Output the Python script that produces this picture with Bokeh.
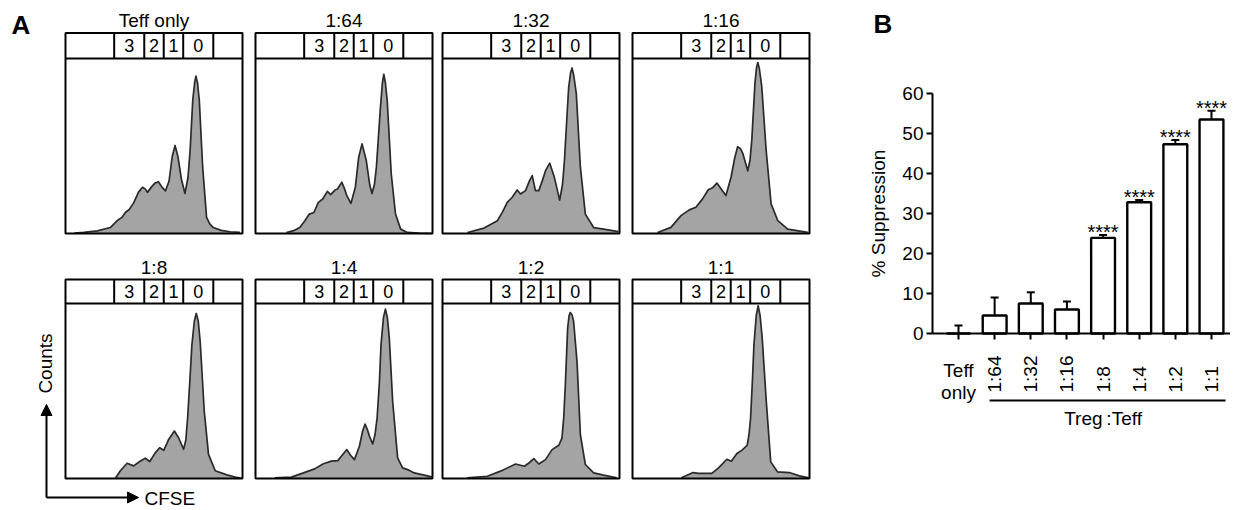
import math
from bokeh.plotting import figure
from bokeh.layouts import row, column
from bokeh.models import (ColumnDataSource, Range1d, FixedTicker, Whisker,
                          TeeHead, Arrow, NormalHead)
from bokeh.core.properties import value
from bokeh.embed import file_html
from bokeh.resources import INLINE

FONT = "Liberation Sans"

# ---------------- Panel A data: CFSE histograms (x: % of channel range, y: % of histogram height)
teff_x = [5, 10.3, 18, 25.3, 29.5, 31.9, 33.8, 36, 38.5, 41.2, 43.5, 45.0, 46.3, 48.5, 50.5,
          52.5, 54.5, 56.5, 58.5, 60.3, 61.9, 63.5, 65.5, 67.5, 69.2, 70.4, 71.9, 73.0, 73.7,
          74.6, 75.6, 77.5, 79.7, 81.5, 83.5, 88, 93, 98.5]
teff_y = [0.3, 0.6, 1.5, 3.4, 7.6, 9.2, 12, 13.7, 17.5, 23.5, 26.4, 25.5, 23.5, 26.5, 28.8,
          29.6, 26.5, 24.4, 30, 44, 50.3, 44, 31, 22.9, 32, 47.4, 76.2, 86.5, 89.9,
          86, 76, 37.9, 9.2, 5.5, 3.4, 1.8, 1.0, 0.6]

r64_x = [17.5, 22, 25, 27.9, 30.4, 33, 35.5, 38, 40.6, 42.5, 45, 46.3, 48.8, 50.3, 51.6, 53.9,
         56.4, 58.3, 60.2, 62.6, 64.5, 65.8, 67.2, 68.3, 70.6, 71.7, 72.5, 73.4, 74.4, 76.7,
         79.1, 82, 85.8, 92, 100]
r64_y = [0.6, 1.8, 3.4, 7.3, 11.1, 12, 17.8, 19.7, 24.1, 22.2, 24.9, 25.4, 29.3, 25.5, 21.6, 17.2,
         26.4, 43.6, 51.2, 41.7, 28, 22.9, 28, 37.9, 72.3, 86, 91, 86, 76.1, 34,
         11.1, 2.5, 0.6, 0.2, 0]

r32_x = [14.1, 23.5, 31, 34, 36.6, 39.4, 42.2, 44.1, 46.9, 49.3, 50.7, 52.5, 54.4, 56.5, 58.2,
         60.6, 63.2, 66.2, 67.8, 68.9, 70.2, 71.3, 72.4, 73.2, 74.2, 75.6, 77.9, 80.7, 85.4,
         91, 99.4]
r32_y = [0.6, 3.1, 7.3, 12.5, 17.8, 20.7, 24.9, 22.6, 24.5, 30.5, 33.1, 24.5, 24.5, 30.5, 35.9,
         40.2, 32.1, 19.1, 28, 41.7, 65, 83.7, 92, 94.6, 90, 79.9, 37.9, 11.1, 3.4,
         2.5, 1.1]

r16_x = [14.2, 21.7, 27.4, 32.1, 35.8, 39.6, 42.8, 45.3, 47.7, 50, 52.8, 55.7, 57.7, 59.4, 61,
         62.3, 65.1, 66.4, 67.4, 69.2, 70.1, 70.8, 71.7, 73, 75.5, 78.3, 82.1, 87.7, 99]
r16_y = [0.6, 3.5, 10.2, 13.5, 15, 19.8, 25, 26.2, 28.8, 25.6, 21.7, 32.3, 43, 49.6, 48.5,
         45.8, 35.8, 42, 53.5, 86.2, 95, 97.7, 94, 84.2, 47.7, 16.9, 7.3, 2.5, 0.6]

r8_x = [28.2, 31, 34.8, 38.5, 42.3, 45.1, 47.6, 50.8, 53.2, 55.5, 58.3, 61.5, 63.9, 66.7, 68,
        69, 70.2, 71.4, 72.8, 73.9, 75, 76.1, 78.4, 80.8, 84.6, 91.2, 96.8, 100]
r8_y = [0.2, 4.4, 8.7, 7.2, 10, 11.6, 9.7, 14.8, 17.6, 16.1, 22.3, 27.1, 23.3, 16.7, 22,
        34.7, 55, 76.3, 90, 94.3, 90, 78.2, 38.4, 13.8, 4.4, 2.1, 0.6, 0]

r4_x = [10.9, 20.3, 25.9, 33.4, 38.1, 42.8, 46.5, 49.3, 51.6, 53.7, 55.9, 58.7, 60.5, 61.9, 63.2,
        64.4, 66.2, 67.5, 68.7, 70, 70.9, 72.3, 73.4, 74.5, 75.6, 77.5, 80.3, 83.1, 85.9, 89.7,
        95.3, 100]
r4_y = [0.4, 0.8, 2.8, 5.5, 8.3, 9.9, 10.2, 13.7, 16.5, 13.3, 10.8, 18.4, 27, 31.1, 28,
        24.1, 19.7, 25, 34.5, 55, 76.3, 92, 96.8, 92, 80.1, 44, 11.8, 6.1, 5.1, 3.2,
        1.9, 0.8]

r2_x = [14.1, 25.3, 32.8, 41.3, 46.3, 49, 51.6, 54.4, 58.2, 61.9, 65.7, 67.5, 68.5, 69.4, 70.7,
        71.5, 72.2, 73.2, 74.1, 76, 77.9, 80.7, 85.4, 91, 98.5]
r2_y = [0.4, 1.3, 4.2, 8.3, 7, 9, 11.4, 8.3, 10.8, 16.5, 19, 23.1, 35, 53.5, 85.8,
        93, 94.9, 93.5, 89.6, 66.8, 25, 8, 3.2, 1.9, 0.4]

r1_x = [27.6, 34.3, 37.1, 44.8, 48.6, 53.3, 55.8, 59, 61.9, 64.8, 65.8, 66.7, 67.7, 68.6, 69.9,
        71, 72.1, 73.3, 75.6, 78.1, 81.9, 88.6, 94.3, 99.6]
r1_y = [0.4, 3.4, 2.9, 2.9, 6.1, 11, 9.9, 14.3, 16.2, 19, 25, 34.3, 55, 76.2, 93,
        98.7, 93, 80, 43.8, 9.5, 3.8, 3.4, 1.5, 0.4]

panel_titles = ["Teff only", "1:64", "1:32", "1:16", "1:8", "1:4", "1:2", "1:1"]
panel_xs = [teff_x, r64_x, r32_x, r16_x, r8_x, r4_x, r2_x, r1_x]
panel_ys = [teff_y, r64_y, r32_y, r16_y, r8_y, r4_y, r2_y, r1_y]

gate_edges = [27.5, 44.5, 55.5, 66.5, 83.5]
gate_labels = ["3", "2", "1", "0"]

# ---------------- Panel B data
categories = ["Teff only", "1:64", "1:32", "1:16", "1:8", "1:4", "1:2", "1:1"]
suppression = [0.0, 4.5, 7.5, 6.0, 23.9, 32.8, 47.3, 53.5]
sem = [2.0, 4.5, 2.8, 2.0, 0.7, 0.6, 1.1, 2.2]
significance = ["", "", "", "", "****", "****", "****", "****"]
y_ticks = [0, 10, 20, 30, 40, 50, 60]
group_label = "Treg\u2009:Teff"

# ---------------- layout constants (pixels)
PX_X = 1.77   # px per histogram x unit
PX_Y = 1.75   # px per histogram y unit
col_widths = [249, 188, 188, 190]
col_box_left = [65, 6, 5, 7]
row_heights = [250, 258]
row_box_bottom = [17, 30]
row_strip_px = [25.5, 24.0]

FILL = "#a4a4a4"
EDGE = "#2a2a2a"


def hist_fig(idx, r, c):
    w, h = col_widths[c], row_heights[r]
    bl, bb = col_box_left[c], row_box_bottom[r]
    x0, x1 = -bl / PX_X, (w - bl) / PX_X
    y0, y1 = -bb / PX_Y, (h - bb) / PX_Y
    p = figure(width=w, height=h, x_range=Range1d(x0, x1), y_range=Range1d(y0, y1),
               x_axis_type=None, y_axis_type=None, toolbar_location=None,
               output_backend="svg", min_border=0, outline_line_color=None,
               background_fill_color="white", border_fill_color="white")
    strip_top = 100 + row_strip_px[r] / PX_Y
    xs, ys = panel_xs[idx], panel_ys[idx]
    p.patch([xs[0]] + xs + [xs[-1]], [0] + ys + [0], fill_color=FILL, line_color=None)
    p.line(xs, ys, line_color=EDGE, line_width=1.7, line_join="round")
    p.quad(left=[0], right=[100], bottom=[0], top=[strip_top], fill_color=None,
           line_color="black", line_width=2)
    p.segment(x0=[0], y0=[100], x1=[100], y1=[100], line_color="black", line_width=2)
    p.segment(x0=gate_edges, y0=[100] * len(gate_edges), x1=gate_edges,
              y1=[strip_top] * len(gate_edges), line_color="black", line_width=2)
    centers = [(a + b) / 2 for a, b in zip(gate_edges[:-1], gate_edges[1:])]
    p.text(x=centers, y=[(100 + strip_top) / 2] * len(centers), text=gate_labels,
           text_font=value(FONT), text_font_size="18px", text_align="center",
           text_baseline="middle", text_color="black")
    p.text(x=[50], y=[strip_top + 12.5 / PX_Y], text=[panel_titles[idx]],
           text_font=value(FONT), text_font_size="19px", text_align="center",
           text_baseline="middle", text_color="black")
    return p


figs = [[hist_fig(r * 4 + c, r, c) for c in range(4)] for r in range(2)]

# "A" label on first panel (canvas px -> data)
pA = figs[0][0]
A_bottom = row_heights[0] - row_box_bottom[0]
pA.text(x=[(11 - 65) / PX_X], y=[(A_bottom - 24) / PX_Y], text=["A"], text_font=value(FONT),
        text_font_size="26px", text_font_style="bold", text_align="left",
        text_baseline="middle", text_color="black")

# Counts / CFSE arrows on bottom-left panel (page px -> data)
pC = figs[1][0]
C_bottom = row_heights[0] + row_heights[1] - row_box_bottom[1]   # page y of box bottom
ax0 = (46 - 65) / PX_X
ay0 = (C_bottom - 497) / PX_Y
pC.add_layout(Arrow(end=NormalHead(size=11, fill_color="black", line_color="black"),
                    x_start=ax0, y_start=ay0, x_end=ax0, y_end=(C_bottom - 404) / PX_Y,
                    line_width=2, line_color="black"))
pC.add_layout(Arrow(end=NormalHead(size=11, fill_color="black", line_color="black"),
                    x_start=ax0, y_start=ay0, x_end=(138 - 65) / PX_X, y_end=ay0,
                    line_width=2, line_color="black"))
pC.text(x=[(45 - 65) / PX_X], y=[(C_bottom - 363) / PX_Y], text=["Counts"], angle=math.pi / 2,
        text_font=value(FONT), text_font_size="19px", text_align="center",
        text_baseline="middle", text_color="black")
pC.text(x=[(144 - 65) / PX_X], y=[(C_bottom - 498) / PX_Y], text=["CFSE"],
        text_font=value(FONT), text_font_size="19px", text_align="left",
        text_baseline="middle", text_color="black")

# ---------------- Panel B
BX = 36.14   # px per category
BY = 4.0     # px per %
B_left = sum(col_widths)
bw = 1230 - B_left
bh = sum(row_heights)
bx0 = 1 + (B_left - 958) / BX
bx1 = 1 + (1230 - 958) / BX
by0 = (333 - bh) / BY
by1 = 333 / BY
axis_x = 1 + (932 - 958) / BX

pB = figure(width=bw, height=bh, x_range=Range1d(bx0, bx1), y_range=Range1d(by0, by1),
            toolbar_location=None, output_backend="svg", min_border=0,
            outline_line_color=None, background_fill_color="white",
            border_fill_color="white")
pB.grid.visible = False

xpos = [i + 1 for i in range(len(categories))]
upper = [m + e for m, e in zip(suppression, sem)]
src = ColumnDataSource(dict(x=xpos, top=suppression, lower=suppression, upper=upper))

pB.vbar(x="x", top="top", bottom=0, width=0.66, source=src, fill_color="white",
        line_color="black", line_width=2.4)
pB.add_layout(Whisker(source=src, base="x", lower="lower", upper="upper",
                      dimension="height", line_width=2, line_color="black",
                      upper_head=TeeHead(size=8, line_width=2, line_color="black"),
                      lower_head=None, level="glyph"))
star_idx = [i for i, s in enumerate(significance) if s]
pB.text(x=[xpos[i] for i in star_idx], y=[upper[i] + 0.7 for i in star_idx],
        text=[significance[i] for i in star_idx], text_font=value(FONT),
        text_font_size="20px", text_align="center", text_baseline="middle",
        text_color="black")

# axes
yax = pB.yaxis[0]
yax.fixed_location = axis_x
yax.bounds = (0, 60)
yax.ticker = FixedTicker(ticks=y_ticks)
yax.minor_tick_line_color = None
yax.major_tick_in = 0
yax.major_tick_out = 6
yax.major_tick_line_width = 2
yax.axis_line_width = 2
yax.axis_line_color = "black"
yax.major_tick_line_color = "black"
yax.major_label_text_font = FONT
yax.major_label_text_font_size = "19px"
yax.major_label_text_color = "black"
yax.major_label_standoff = 3
yax.axis_label = "% Suppression"
yax.axis_label_text_font = FONT
yax.axis_label_text_font_size = "19px"
yax.axis_label_text_font_style = "normal"
yax.axis_label_text_color = "black"
yax.axis_label_standoff = 10

xax = pB.xaxis[0]
xax.fixed_location = 0
xax.bounds = (axis_x, bx1)
xax.ticker = FixedTicker(ticks=xpos)
xax.minor_tick_line_color = None
xax.major_tick_in = 0
xax.major_tick_out = 6
xax.major_tick_line_width = 2
xax.axis_line_width = 2
xax.axis_line_color = "black"
xax.major_tick_line_color = "black"
xax.major_label_text_color = None   # category labels are drawn below as text glyphs

# category labels
horiz = [(x, c.replace(" ", "\n")) for x, c in zip(xpos, categories) if " " in c]
vert = [(x, c) for x, c in zip(xpos, categories) if " " not in c]
pB.text(x=[v[0] for v in horiz], y=[(333 - 403) / BY] * len(horiz),
        text=[v[1] for v in horiz], text_font=value(FONT), text_font_size="19px",
        text_align="center", text_baseline="bottom", text_line_height=1.05,
        text_color="black")
pB.text(x=[v[0] for v in vert], y=[(333 - 392) / BY] * len(vert),
        text=[v[1] for v in vert], angle=math.pi / 2, text_font=value(FONT),
        text_font_size="19px", text_align="left", text_baseline="middle",
        text_color="black")

# group line + label
pB.segment(x0=[xpos[1] - 0.14], y0=[(333 - 400) / BY], x1=[1 + (1225 - 958) / BX],
           y1=[(333 - 400) / BY], line_color="black", line_width=2)
pB.text(x=[(xpos[1] + xpos[-1]) / 2], y=[(333 - 418) / BY], text=[group_label],
        text_font=value(FONT), text_font_size="19px", text_align="center",
        text_baseline="middle", text_color="black")

pB.text(x=[1 + (873 - 958) / BX], y=[(333 - 23) / BY], text=["B"], text_font=value(FONT),
        text_font_size="26px", text_font_style="bold", text_align="left",
        text_baseline="middle", text_color="black")

layout = row(column(row(*figs[0], spacing=0), row(*figs[1], spacing=0), spacing=0), pB,
             spacing=0)

open("out.html", "w").write(file_html(layout, INLINE))
